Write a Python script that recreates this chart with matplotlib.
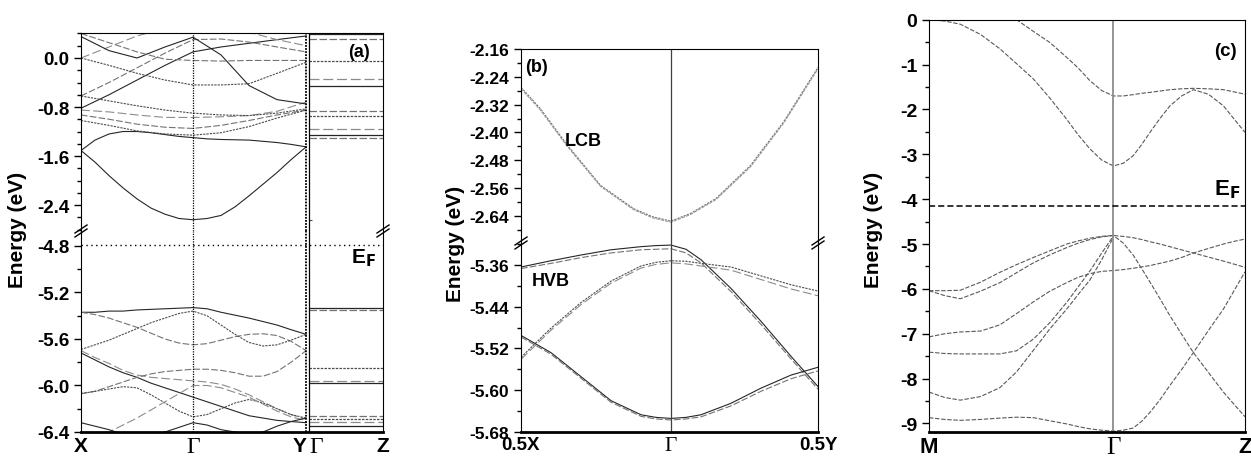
import matplotlib
matplotlib.use("Agg")
import matplotlib.pyplot as plt
from matplotlib.ticker import MultipleLocator, FormatStrFormatter

plt.rcParams["font.family"] = ["Liberation Sans", "DejaVu Sans"]
plt.rcParams["font.weight"] = "bold"
plt.rcParams["axes.unicode_minus"] = False

# ---------------- panel (a): X - Gamma - Y | Gamma - Z ----------------
k_a = [0.0, 0.25, 0.5, 0.75, 1.0, 1.25, 1.5, 1.75, 2.01]
k_a_fine = [0.0, 0.125, 0.25, 0.375, 0.5, 0.625, 0.75, 0.875, 1.0,
            1.125, 1.25, 1.375, 1.5, 1.625, 1.75, 1.875, 2.01]
k_a_gamma2 = 2.036
k_a_z = 2.696
a_tick_k = [0.0, 1.0, 2.01, 2.036, 2.696]
a_tick_labels = ["X", "Γ", "Y", "Γ", "Z"]

# bands read on the fine k grid
a_upper_fine = [
    [-1.51, -1.70, -1.92, -2.12, -2.30, -2.45, -2.55, -2.62, -2.64,
     -2.62, -2.57, -2.43, -2.25, -2.06, -1.87, -1.66, -1.45],
    [-1.51, -1.34, -1.24, -1.20, -1.20, -1.22, -1.25, -1.28, -1.30,
     -1.32, -1.33, -1.335, -1.34, -1.36, -1.38, -1.41, -1.45],
]
# bands read on the coarse k grid
a_upper_bands = [
    [-0.93, -1.00, -1.08, -1.13, -1.15, -1.10, -1.02, -0.93, -0.85],
    [-1.02, -1.10, -1.19, -1.24, -1.26, -1.22, -1.12, -0.98, -0.85],
    [-0.85, -0.88, -0.93, -0.97, -0.97, -0.96, -0.94, -0.87, -0.72],
    [-0.82, -0.60, -0.36, -0.12, 0.10, 0.18, 0.24, 0.30, 0.36],
    [-0.62, -0.40, -0.16, 0.08, 0.30, 0.31, 0.26, 0.18, 0.10],
    [0.00, -0.12, -0.25, -0.36, -0.44, -0.44, -0.42, -0.25, -0.07],
    [0.00, 0.18, 0.36, 0.48, 0.52, 0.48, 0.42, 0.30, 0.20],
    [0.35, 0.12, 0.00, 0.18, 0.34, 0.05, -0.45, -0.68, -0.75],
    [0.40, 0.25, 0.10, -0.02, -0.04, -0.05, -0.04, -0.04, -0.04],
    [-0.62, -0.70, -0.78, -0.85, -0.90, -0.93, -0.94, -0.90, -0.83],
]
a_lower_fine = [
    [-5.37, -5.37, -5.36, -5.36, -5.35, -5.345, -5.34, -5.335, -5.33,
     -5.34, -5.37, -5.395, -5.42, -5.45, -5.48, -5.52, -5.56],
    [-5.37, -5.39, -5.42, -5.46, -5.50, -5.55, -5.60, -5.635, -5.65,
     -5.64, -5.61, -5.58, -5.56, -5.555, -5.57, -5.62, -5.70],
    [-5.69, -5.65, -5.61, -5.56, -5.51, -5.46, -5.42, -5.38, -5.36,
     -5.40, -5.48, -5.56, -5.63, -5.66, -5.65, -5.61, -5.56],
    [-5.70, -5.76, -5.81, -5.87, -5.91, -5.93, -5.94, -5.95, -5.96,
     -5.97, -5.99, -6.03, -6.08, -6.14, -6.20, -6.25, -6.29],
    [-5.72, -5.78, -5.84, -5.89, -5.93, -5.98, -6.02, -6.06, -6.10,
     -6.14, -6.18, -6.22, -6.26, -6.28, -6.30, -6.31, -6.32],
    [-6.07, -6.05, -6.01, -5.97, -5.93, -5.90, -5.88, -5.87, -5.86,
     -5.86, -5.87, -5.89, -5.92, -5.92, -5.88, -5.80, -5.70],
    [-6.07, -6.05, -6.03, -6.01, -6.02, -6.08, -6.15, -6.22, -6.27,
     -6.25, -6.20, -6.15, -6.12, -6.15, -6.20, -6.25, -6.28],
    [-6.45, -6.43, -6.40, -6.34, -6.28, -6.21, -6.14, -6.07, -6.00,
     -6.00, -6.02, -6.06, -6.10, -6.16, -6.22, -6.27, -6.30],
    [-6.32, -6.35, -6.38, -6.42, -6.45, -6.43, -6.40, -6.36, -6.32,
     -6.34, -6.38, -6.40, -6.42, -6.40, -6.35, -6.31, -6.28],
]
a_gz_upper = [0.39, 0.31, -0.05, -0.35, -0.45, -0.86, -0.94, -1.16, -1.26, -1.31]
a_gz_lower = [-5.33, -5.35, -5.85, -5.96, -5.98, -6.26, -6.29, -6.31, -6.35]
a_fermi = -4.79

# ---------------- panel (b): 0.5X - Gamma - 0.5Y ----------------
k_b_lcb = [0.0, 0.13, 0.31, 0.53, 0.75, 0.88, 1.0, 1.13, 1.30, 1.53, 1.75, 1.98]
b_lcb_1 = [-2.270, -2.332, -2.437, -2.552, -2.619, -2.643, -2.655, -2.633, -2.590, -2.495, -2.370, -2.213]
b_lcb_2 = [-2.274, -2.336, -2.441, -2.555, -2.622, -2.646, -2.658, -2.636, -2.593, -2.499, -2.374, -2.217]
k_b_hvb = [0.0, 0.2, 0.4, 0.6, 0.8, 0.9, 1.0, 1.1, 1.2, 1.4, 1.6, 1.8, 1.98]
b_hvb = [
    [-5.364, -5.352, -5.341, -5.331, -5.325, -5.323, -5.322, -5.330, -5.350, -5.405, -5.468, -5.535, -5.593],
    [-5.367, -5.357, -5.346, -5.337, -5.331, -5.330, -5.329, -5.337, -5.356, -5.411, -5.474, -5.540, -5.598],
    [-5.537, -5.481, -5.432, -5.391, -5.362, -5.355, -5.352, -5.353, -5.357, -5.364, -5.381, -5.398, -5.410],
    [-5.541, -5.485, -5.436, -5.395, -5.366, -5.359, -5.356, -5.358, -5.362, -5.370, -5.388, -5.406, -5.419],
    [-5.495, -5.528, -5.574, -5.620, -5.647, -5.652, -5.654, -5.652, -5.647, -5.625, -5.596, -5.571, -5.556],
    [-5.498, -5.531, -5.577, -5.623, -5.650, -5.655, -5.657, -5.655, -5.651, -5.630, -5.602, -5.578, -5.563],
]
b_tick_k = [0.0, 1.0, 1.98]
b_tick_labels = ["0.5X", "Γ", "0.5Y"]

# ---------------- panel (c): M - Gamma - Z ----------------
k_c = [0.0, 0.085, 0.17, 0.28, 0.385, 0.475, 0.566, 0.656, 0.747, 0.81, 0.873, 0.937, 1.0,
       1.054, 1.108, 1.154, 1.199, 1.253, 1.307, 1.37, 1.434, 1.515, 1.597, 1.656, 1.714]
nan = float("nan")
c_bands = [
    [0.00, -0.03, -0.10, -0.33, -0.65, -0.98, -1.32, -1.75, -2.22, -2.57, -2.88, -3.13, -3.26,
     -3.20, -3.03, -2.78, -2.51, -2.20, -1.92, -1.70, -1.56, -1.66, -1.92, -2.22, -2.51],
    [1.20, 1.00, 0.80, 0.55, 0.22, 0.00, -0.26, -0.51, -0.84, -1.08, -1.36, -1.58, -1.70,
     -1.70, -1.67, -1.64, -1.62, -1.59, -1.56, -1.54, -1.53, -1.54, -1.56, -1.61, -1.66],
    [-6.04, -6.04, -6.03, -5.85, -5.63, -5.46, -5.30, -5.15, -5.00, -4.93, -4.87, -4.83, -4.81,
     -4.83, -4.86, -4.90, -4.95, -5.00, -5.06, -5.13, -5.20, -5.29, -5.38, -5.45, -5.52],
    [-6.04, -6.15, -6.22, -6.05, -5.86, -5.64, -5.42, -5.24, -5.08, -4.98, -4.90, -4.84, -4.81,
     -4.98, -5.25, -5.55, -5.85, -6.22, -6.60, -7.01, -7.42, -7.86, -8.30, -8.58, -8.85],
    [-7.07, -7.00, -6.96, -6.94, -6.80, -6.55, -6.29, -6.05, -5.86, -5.74, -5.66, -5.61, -5.59,
     -5.57, -5.54, -5.51, -5.48, -5.43, -5.38, -5.30, -5.20, -5.10, -5.00, -4.94, -4.89],
    [-7.41, -7.44, -7.45, -7.45, -7.45, -7.38, -7.12, -6.75, -6.30, -5.95, -5.60, -5.20, -4.82,
     nan, nan, nan, nan, nan, nan, nan, nan, nan, nan, nan, nan],
    [-8.30, -8.42, -8.48, -8.40, -8.20, -7.85, -7.37, -6.89, -6.45, -6.12, -5.80, -5.35, -4.85,
     nan, nan, nan, nan, nan, nan, nan, nan, nan, nan, nan, nan],
    [-8.87, -8.91, -8.93, -8.91, -8.88, -8.86, -8.87, -8.94, -9.01, -9.07, -9.12, -9.15, -9.17,
     -9.15, -9.10, -8.95, -8.75, -8.47, -8.15, -7.80, -7.42, -6.93, -6.45, -6.03, -5.62],
]
c_fermi = -4.15
c_tick_k = [0.0, 1.0, 1.714]
c_tick_labels = ["M", "Γ", "Z"]

W, H = 1251, 460
fig = plt.figure(figsize=(W / 100, H / 100), dpi=100)


def add_ax(l, b, r, t):
    return fig.add_axes([l / W, 1 - b / H, (r - l) / W, (b - t) / H])


def style_y(ax, major, minor, fmt, size):
    ax.yaxis.set_major_locator(MultipleLocator(major))
    ax.yaxis.set_minor_locator(MultipleLocator(minor))
    ax.yaxis.set_major_formatter(FormatStrFormatter(fmt))
    ax.tick_params(axis="y", which="major", direction="out", length=5, width=1, labelsize=size)
    ax.tick_params(axis="y", which="minor", direction="out", length=3, width=1)
    ax.tick_params(axis="x", length=0)
    for lab in ax.get_yticklabels():
        lab.set_fontweight("bold")


def set_k_labels(ax, ks, labels, size, pad=3):
    ax.set_xticks(ks)
    ax.set_xticklabels(labels)
    ax.tick_params(axis="x", length=0, pad=pad)
    for lab in ax.get_xticklabels():
        lab.set_fontsize(size)
        lab.set_fontweight("bold")
        if lab.get_text() == "Γ":
            lab.set_fontfamily("Liberation Serif")
            lab.set_fontweight("normal")
            lab.set_fontsize(size + 2)


def break_marks(ax, w_px, h_px):
    dx, dy, gap = 6 / w_px, 4 / h_px, 4 / h_px
    for x0 in (0, 1):
        for off in (-gap / 2, gap / 2):
            ax.plot([x0 - dx, x0 + dx], [1 + off - dy, 1 + off + dy], color="k",
                    lw=1, transform=ax.transAxes, clip_on=False)


band_styles = [("0.15", "-"), ("0.45", (0, (6, 2))), ("0.3", (0, (2, 1))), ("0.55", (0, (8, 3)))]

# ---- panel (a)
ax_au = add_ax(81, 232, 383, 34)
ax_al = add_ax(81, 433, 383, 232)
for i, e in enumerate(a_upper_fine):
    ax_au.plot(k_a_fine, e, color="0.15", ls="-", lw=0.8)
for i, e in enumerate(a_upper_bands):
    c, ls = band_styles[(i + 1) % 4]
    ax_au.plot(k_a, e, color=c, ls=ls, lw=0.8)
for i, e in enumerate(a_lower_fine):
    c, ls = band_styles[i % 4]
    ax_al.plot(k_a_fine, e, color=c, ls=ls, lw=0.8)
for i, e in enumerate(a_gz_upper):
    c, ls = band_styles[i % 4]
    ax_au.hlines(e, k_a_gamma2, k_a_z, color=c, ls=ls, lw=0.9)
for i, e in enumerate(a_gz_lower):
    c, ls = band_styles[i % 4]
    ax_al.hlines(e, k_a_gamma2, k_a_z, color=c, ls=ls, lw=0.9)
ax_au.hlines(-2.64, k_a_gamma2, k_a_gamma2 + 0.03, color="0.3", lw=0.8)
ax_al.axhline(a_fermi, color="k", ls=(0, (1, 2.5)), lw=1)
for ax in (ax_au, ax_al):
    ax.axvline(1.0, color="k", ls=(0, (1, 1)), lw=0.9)
    ax.axvline(2.01, color="k", ls=(0, (1, 0.7)), lw=1.3)
    ax.axvline(k_a_gamma2, color="k", lw=0.9)
    ax.set_xlim(0, k_a_z)
ax_au.set_ylim(-2.824, 0.408)
ax_al.set_ylim(-6.4, -4.671)
style_y(ax_au, 0.8, 0.2, "%.1f", 13.5)
style_y(ax_al, 0.4, 0.2, "%.1f", 13.5)
ax_au.spines["bottom"].set_visible(False)
ax_al.spines["top"].set_visible(False)
ax_al.spines["bottom"].set_linewidth(2)
ax_au.set_xticks([])
set_k_labels(ax_al, a_tick_k, a_tick_labels, 15)
xl = ax_al.get_xticklabels()
xl[2].set_ha("right")
xl[3].set_ha("left")
break_marks(ax_al, 302, 201)
ax_au.text(0.955, 0.905, "(a)", transform=ax_au.transAxes, ha="right", va="center",
           fontsize=13, fontweight="bold")
ax_al.text(0.935, 0.87, r"E$_\mathbf{F}$", transform=ax_al.transAxes, ha="center",
           va="center", fontsize=15, fontweight="bold")
fig.text(0.014, 0.5, "Energy (eV)", rotation=90, ha="center", va="center",
         fontsize=15, fontweight="bold")

# ---- panel (b)
ax_bu = add_ax(521, 244, 818, 50)
ax_bl = add_ax(521, 433, 818, 244)
ax_bu.plot(k_b_lcb, b_lcb_1, color="0.45", ls=(0, (2, 1)), lw=0.8)
ax_bu.plot(k_b_lcb, b_lcb_2, color="0.6", ls=(0, (3, 1)), lw=0.8)
for i, e in enumerate(b_hvb):
    c, ls = band_styles[i % 4]
    ax_bl.plot(k_b_hvb, e, color=c, ls=ls, lw=0.8)
for ax in (ax_bu, ax_bl):
    ax.axvline(1.0, color="0.25", lw=0.9)
    ax.set_xlim(0, 1.98)
ax_bu.set_ylim(-2.718, -2.16)
ax_bl.set_ylim(-5.68, -5.318)
style_y(ax_bu, 0.08, 0.04, "%.2f", 12.5)
style_y(ax_bl, 0.08, 0.04, "%.2f", 12.5)
ax_bu.spines["bottom"].set_visible(False)
ax_bl.spines["top"].set_visible(False)
ax_bl.spines["bottom"].set_linewidth(2)
ax_bu.set_xticks([])
set_k_labels(ax_bl, b_tick_k, b_tick_labels, 13.5)
break_marks(ax_bl, 297, 189)
ax_bu.text(0.015, 0.91, "(b)", transform=ax_bu.transAxes, ha="left", va="center",
           fontsize=13, fontweight="bold")
ax_bu.text(0.21, 0.53, "LCB", transform=ax_bu.transAxes, ha="center", va="center",
           fontsize=13, fontweight="bold")
ax_bl.text(0.10, 0.80, "HVB", transform=ax_bl.transAxes, ha="center", va="center",
           fontsize=13, fontweight="bold")
fig.text(0.364, 0.47, "Energy (eV)", rotation=90, ha="center", va="center",
         fontsize=15, fontweight="bold")

# ---- panel (c)
ax_c = add_ax(929, 433, 1245, 20.7)
for e in c_bands:
    ax_c.plot(k_c, e, color="0.35", ls=(0, (4, 1.5)), lw=0.8)
ax_c.axvline(1.0, color="0.55", lw=1.3)
ax_c.axhline(c_fermi, color="k", ls=(0, (4, 2)), lw=1.1)
ax_c.set_xlim(0, 1.714)
ax_c.set_ylim(-9.19, 0)
style_y(ax_c, 1, 0.5, "%d", 14)
ax_c.spines["bottom"].set_linewidth(2)
set_k_labels(ax_c, c_tick_k, c_tick_labels, 16)
ax_c.text(0.975, 0.925, "(c)", transform=ax_c.transAxes, ha="right", va="center",
          fontsize=13.5, fontweight="bold")
ax_c.text(0.945, 0.59, r"E$_\mathbf{F}$", transform=ax_c.transAxes, ha="center",
          va="center", fontsize=16, fontweight="bold")
fig.text(0.698, 0.5, "Energy (eV)", rotation=90, ha="center", va="center",
         fontsize=15, fontweight="bold")

fig.savefig("out.png", dpi=100)
